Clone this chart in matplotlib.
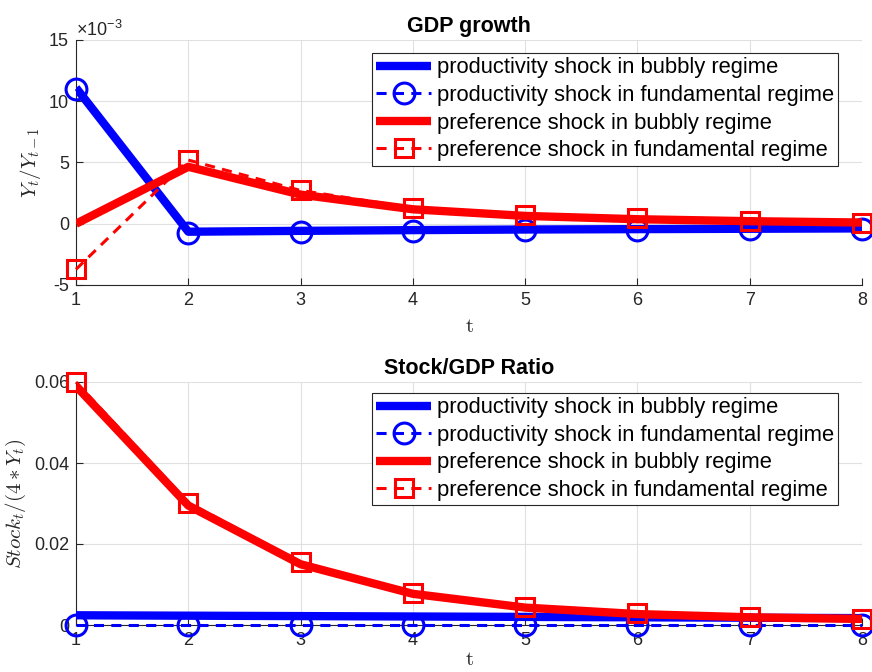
import matplotlib
matplotlib.use("Agg")
import matplotlib.pyplot as plt

plt.rcParams['font.family'] = ['Liberation Sans', 'DejaVu Sans']
plt.rcParams['mathtext.fontset'] = 'cm'

t = [1, 2, 3, 4, 5, 6, 7, 8]

# GDP growth (Y_t / Y_{t-1})
gdp_prod_bubbly = [0.0111, -0.00065, -0.00058, -0.00052, -0.00047, -0.00044, -0.00041, -0.00038]
gdp_prod_fund = [0.0110, -0.00075, -0.00064, -0.00056, -0.00051, -0.00047, -0.00044, -0.00042]
gdp_pref_bubbly = [0.0000, 0.00465, 0.00238, 0.00118, 0.00064, 0.00037, 0.00021, 0.00010]
gdp_pref_fund = [-0.00372, 0.00520, 0.00272, 0.00130, 0.00075, 0.00043, 0.00024, 0.00008]

# Stock/GDP ratio
stock_prod_bubbly = [0.0024, 0.0023, 0.0022, 0.0021, 0.0020, 0.0019, 0.0018, 0.0017]
stock_prod_fund = [0.0000, 0.0000, 0.0000, 0.0000, 0.0000, 0.0000, 0.0000, 0.0000]
stock_pref_bubbly = [0.0590, 0.0295, 0.0150, 0.0077, 0.0043, 0.0027, 0.0019, 0.0015]
stock_pref_fund = [0.0600, 0.0302, 0.0155, 0.0080, 0.0045, 0.0030, 0.0020, 0.0015]

labels = ["productivity shock in bubbly regime",
          "productivity shock in fundamental regime",
          "preference shock in bubbly regime",
          "preference shock in fundamental regime"]

gdp_yticks = [-0.005, 0.0, 0.005, 0.010, 0.015]
gdp_yticklabels = ["-5", "0", "5", "10", "15"]
stock_yticks = [0.0, 0.02, 0.04, 0.06]
stock_yticklabels = ["0", "0.02", "0.04", "0.06"]

BLUE = (0, 0, 1)
RED = (1, 0, 0)
AXC = (0.15, 0.15, 0.15)

fig = plt.figure(figsize=(8.72, 6.72), dpi=100)
ax1 = fig.add_axes([76/872, 1-285/672, 786/872, 245/672])
ax2 = fig.add_axes([76/872, 1-625/672, 786/872, 243/672])


def draw(ax, s1, s2, s3, s4, yticks, yticklabels, ylim, title, ylabel, leg_y, xpad):
    ax.plot(t, s1, color=BLUE, lw=6, solid_capstyle='butt', label=labels[0], zorder=3)
    ax.plot(t, s2, color=BLUE, lw=2.2, ls='--', dashes=(3.3, 2.4), marker='o', ms=15,
            mfc='none', mew=2.2, mec=BLUE, label=labels[1], zorder=4, clip_on=False)
    ax.plot(t, s3, color=RED, lw=6, solid_capstyle='butt', label=labels[2], zorder=5)
    ax.plot(t, s4, color=RED, lw=2.2, ls='--', dashes=(3.3, 2.4), marker='s', ms=13.5,
            mfc='none', mew=2.2, mec=RED, label=labels[3], zorder=6, clip_on=False)
    ax.set_xlim(1, 8)
    ax.set_ylim(*ylim)
    ax.set_xticks(t)
    ax.set_xticklabels([str(v) for v in t])
    ax.set_yticks(yticks)
    ax.set_yticklabels(yticklabels)
    ax.grid(True, color=(0.88, 0.88, 0.88), lw=0.8)
    ax.set_axisbelow(True)
    for sp in ['top', 'right']:
        ax.spines[sp].set_visible(False)
    for sp in ['left', 'bottom']:
        ax.spines[sp].set_color(AXC)
        ax.spines[sp].set_linewidth(0.8)
    ax.tick_params(direction='in', length=5, width=0.8, colors=AXC, labelsize=13,
                   labelcolor=AXC, pad=5)
    ax.set_title(title, fontsize=15.5, fontweight='bold', pad=6)
    ax.set_ylabel(ylabel, fontsize=15, color=AXC, labelpad=4)
    ax.set_xlabel(r'$\mathrm{t}$', fontsize=15, color=AXC, labelpad=xpad)
    leg = ax.legend(loc='upper right', bbox_to_anchor=(0.9695, leg_y), borderaxespad=0,
                    fontsize=15.8, frameon=True, fancybox=False, framealpha=1,
                    edgecolor=AXC, handlelength=2.5, handletextpad=0.25,
                    labelspacing=0.3, borderpad=0.2, numpoints=1)
    leg.get_frame().set_linewidth(0.8)
    leg.set_zorder(10)


draw(ax1, gdp_prod_bubbly, gdp_prod_fund, gdp_pref_bubbly, gdp_pref_fund,
     gdp_yticks, gdp_yticklabels, (-0.005, 0.015), 'GDP growth', r'$Y_t/Y_{t-1}$', 0.947, 6)
ax1.text(0.0, 1.0, r'$\mathregular{\times10^{-3}}$', transform=ax1.transAxes,
         fontsize=13, color=AXC, ha='left', va='bottom')

draw(ax2, stock_prod_bubbly, stock_prod_fund, stock_pref_bubbly, stock_pref_fund,
     stock_yticks, stock_yticklabels, (0.0, 0.06), 'Stock/GDP Ratio', r'$Stock_t/(4*Y_t)$', 0.955, 1)

fig.savefig('out.png', dpi=100)
